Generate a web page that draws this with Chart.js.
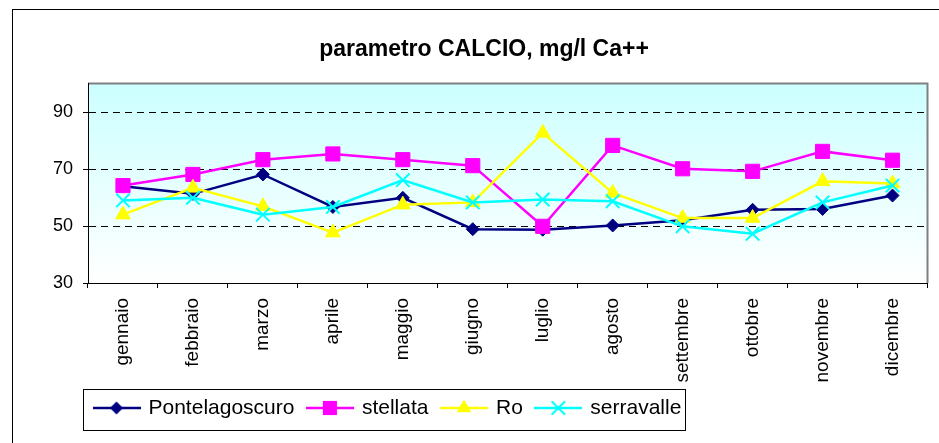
<!DOCTYPE html>
<html>
<head>
<meta charset="utf-8">
<script src="https://cdn.jsdelivr.net/npm/chart.js@4/dist/chart.umd.min.js"></script>
<style>
  html, body { margin: 0; padding: 0; background: #fff; }
  #wrap { width: 939px; height: 443px; position: relative; }
</style>
</head>
<body>
<div id="wrap"><canvas id="chart"></canvas></div>
<script>
// dati
const mesi = ['gennaio', 'febbraio', 'marzo', 'aprile', 'maggio', 'giugno', 'luglio', 'agosto', 'settembre', 'ottobre', 'novembre', 'dicembre'];
const pontelagoscuro = [64.0, 61.3, 68.1, 56.7, 59.9, 48.9, 48.7, 50.2, 52.0, 55.7, 56.0, 60.7];
const stellata = [64.2, 68.1, 73.3, 75.3, 73.3, 71.2, 49.9, 78.3, 70.1, 69.2, 76.2, 73.1];
const ro = [54.0, 63.4, 56.9, 47.7, 57.5, 58.3, 82.7, 61.6, 52.8, 52.8, 65.7, 64.9];
const serravalle = [59.0, 59.9, 54.0, 56.7, 66.1, 58.3, 59.3, 58.7, 49.9, 47.3, 58.3, 64.2];
const yTicks = [30, 50, 70, 90];

const FONT = 'Liberation Sans, Arial, sans-serif';
const PLOT_LEFT = 88, PLOT_BOTTOM = 283;

// simbolo della legenda: linea con marcatore al centro
function legendIcon(color, style, r) {
  const c = document.createElement('canvas');
  c.width = 48; c.height = 20;
  const g = c.getContext('2d');
  g.strokeStyle = color;
  g.fillStyle = color;
  g.lineWidth = 2.5;
  g.beginPath(); g.moveTo(0, 10); g.lineTo(48, 10); g.stroke();
  const x = 24, y = 10;
  g.lineWidth = 2;
  g.beginPath();
  if (style === 'rectRot') {
    g.moveTo(x - r, y); g.lineTo(x, y - r); g.lineTo(x + r, y); g.lineTo(x, y + r); g.closePath(); g.fill();
  } else if (style === 'rect') {
    const s = r * Math.SQRT1_2;
    g.fillRect(x - s, y - s, 2 * s, 2 * s);
  } else if (style === 'triangle') {
    g.moveTo(x, y - r);
    g.lineTo(x + r * Math.sin(2 * Math.PI / 3), y - r * Math.cos(2 * Math.PI / 3));
    g.lineTo(x + r * Math.sin(4 * Math.PI / 3), y - r * Math.cos(4 * Math.PI / 3));
    g.closePath(); g.fill();
  } else {
    const d = r * Math.SQRT1_2;
    g.moveTo(x - d, y - d); g.lineTo(x + d, y + d);
    g.moveTo(x + d, y - d); g.lineTo(x - d, y + d);
    g.stroke();
  }
  return c;
}

// sfondo area del grafico e cornici
const cornice = {
  id: 'cornice',
  beforeDraw(chart) {
    const { ctx, chartArea: a } = chart;
    ctx.save();
    const grad = ctx.createLinearGradient(0, a.top, 0, a.bottom);
    grad.addColorStop(0, '#ccffff');
    grad.addColorStop(1, '#ffffff');
    ctx.fillStyle = grad;
    ctx.fillRect(a.left, a.top, a.right - a.left, a.bottom - a.top);
    ctx.strokeStyle = '#808080';
    ctx.lineWidth = 2;
    ctx.beginPath();
    ctx.moveTo(a.left, a.top);
    ctx.lineTo(a.right, a.top);
    ctx.lineTo(a.right, a.bottom);
    ctx.stroke();
    ctx.restore();
  },
  afterLayout(chart) {
    const lg = chart.legend;
    lg.left = 81; lg.right = 939;
    lg.top = 383.5; lg.bottom = 435;
    const tb = chart.titleBlock;
    tb.left = 29; tb.right = 939;
  },
  afterDraw(chart) {
    const ctx = chart.ctx;
    const lg = chart.legend;
    const pad = lg.options.labels.padding;
    ctx.save();
    ctx.strokeStyle = '#000';
    ctx.lineWidth = 1;
    ctx.strokeRect(12.5, 9.5, 1000, 1000);
    const x0 = 83.5;
    const x1 = Math.round(lg.left + lg.lineWidths[0] + 4) + 0.5;
    ctx.strokeRect(x0, 389.5, x1 - x0, 41);
    ctx.restore();
  }
};

const serie = [
  { label: 'Pontelagoscuro', data: pontelagoscuro, color: '#000080', style: 'rectRot', r: 6.5, bw: 1, order: 4 },
  { label: 'stellata', data: stellata, color: '#ff00ff', style: 'rect', r: 10, bw: 1, order: 3 },
  { label: 'Ro', data: ro, color: '#ffff00', style: 'triangle', r: 8.5, bw: 1, order: 2 },
  { label: 'serravalle', data: serravalle, color: '#00ffff', style: 'crossRot', r: 9.5, bw: 2, order: 1 }
];

new Chart(document.getElementById('chart'), {
  type: 'line',
  data: {
    labels: mesi,
    datasets: serie.map(s => ({
      label: s.label,
      data: s.data,
      borderColor: s.color,
      backgroundColor: s.color,
      borderWidth: 2.5,
      tension: 0,
      pointStyle: s.style,
      pointRadius: s.r,
      pointHoverRadius: s.r,
      pointBorderWidth: s.bw,
      pointBorderColor: s.color,
      pointBackgroundColor: s.color,
      order: s.order,
      clip: false
    }))
  },
  options: {
    responsive: true,
    maintainAspectRatio: false,
    animation: false,
    layout: { padding: { left: 0, right: 9, top: 0, bottom: 0 } },
    plugins: {
      title: {
        display: true,
        text: 'parametro CALCIO, mg/l Ca++',
        color: '#000',
        font: { family: FONT, size: 23, weight: 'bold' },
        padding: { top: 36, bottom: 20 }
      },
      legend: {
        position: 'bottom',
        align: 'start',
        labels: {
          usePointStyle: true,
          pointStyleWidth: 43,
          padding: 14,
          color: '#000',
          font: { family: FONT, size: 21 },
          generateLabels: chart => serie.map((s, i) => ({
            text: s.label,
            datasetIndex: i,
            pointStyle: legendIcon(s.color, s.style, s.style === 'rect' ? 10 : s.r),
            fillStyle: s.color,
            strokeStyle: s.color,
            lineWidth: 0,
            hidden: false,
            fontColor: '#000'
          }))
        }
      },
      tooltip: { enabled: false }
    },
    scales: {
      x: {
        offset: true,
        grid: { offset: true, drawOnChartArea: false, color: '#000', tickLength: 5 },
        border: { display: true, color: '#000', width: 1 },
        ticks: {
          autoSkip: false,
          maxRotation: 90,
          minRotation: 90,
          padding: 10,
          color: '#000',
          font: { family: FONT, size: 19 }
        },
        afterFit(scale) {
          scale.height = 443 - PLOT_BOTTOM - scale.chart.legend.height;
        }
      },
      y: {
        min: 30,
        max: 100,
        afterBuildTicks(scale) {
          scale.ticks = yTicks.map(v => ({ value: v }));
        },
        grid: {
          color: c => (c.tick && c.tick.value === 30 ? 'rgba(0,0,0,0)' : '#000'),
          tickColor: '#000',
          tickLength: 5
        },
        border: { display: true, color: '#000', width: 1, dash: [7, 5] },
        ticks: {
          padding: 10,
          color: '#000',
          font: { family: FONT, size: 18 }
        },
        afterFit(scale) {
          scale.width = PLOT_LEFT;
        }
      }
    }
  },
  plugins: [cornice]
});
</script>
</body>
</html>
